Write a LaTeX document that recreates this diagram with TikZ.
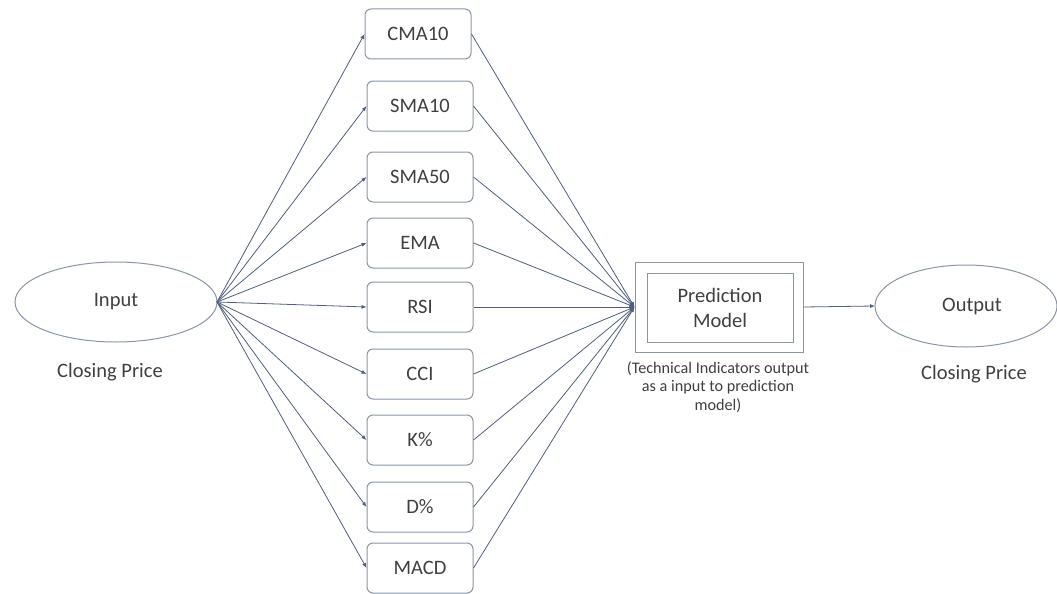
\documentclass[tikz,border=0pt]{standalone}
\usepackage{fontspec}
\setmainfont{Carlito}
\usetikzlibrary{arrows.meta}
\definecolor{linec}{HTML}{50607E}
\definecolor{boxc}{HTML}{8A96A8}
\definecolor{txtc}{HTML}{404040}
\begin{document}
\begin{tikzpicture}[x=1pt,y=-1pt,
  ind/.style={draw=boxc,line width=1pt,rounded corners=6pt,minimum width=106pt,minimum height=50pt,inner sep=0pt,text=txtc,font=\fontsize{20.5}{24}\selectfont},
  lbl/.style={text=txtc,font=\fontsize{20.5}{24}\selectfont,inner sep=0pt},
  captext/.style={text=txtc,font=\fontsize{16.2}{18.5}\selectfont,align=center,inner sep=0pt},
  conn/.style={draw=linec,line width=0.8pt,-{Latex[length=5pt,width=4pt]}}]
\useasboundingbox (0,0) rectangle (1057,594);
\fill[white] (0,0) rectangle (1057,594);
% input / output ellipses
\draw[boxc,line width=1pt] (116,302) ellipse [x radius=101pt,y radius=40pt];
\coordinate (inE) at (217,302);
\node[lbl] (inT) at (116,302) {Input};
\node[lbl] (inC) at (110,372) {Closing Price};
\draw[boxc,line width=1pt] (966,306) ellipse [x radius=91pt,y radius=41pt];
\coordinate (outW) at (875,306);
\node[lbl] (outT) at (972,306) {Output};
\node[lbl] (outC) at (974,374) {Closing Price};
% indicator boxes
\node[ind] (b1) at (418,34) {CMA10};
\node[ind] (b2) at (420,106) {SMA10};
\node[ind] (b3) at (420,177) {SMA50};
\node[ind] (b4) at (420,243) {EMA};
\node[ind] (b5) at (420,307) {RSI};
\node[ind] (b6) at (420,374) {CCI};
\node[ind] (b7) at (420,440) {K\%};
\node[ind] (b8) at (420,507) {D\%};
\node[ind] (b9) at (420,568) {MACD};
% prediction model
\node[draw=boxc,line width=1pt,minimum width=168pt,minimum height=90pt,inner sep=0pt] (pred) at (719,307) {};
\node[draw=boxc,line width=1pt,minimum width=146pt,minimum height=69pt,inner sep=0pt,text=txtc,align=center,font=\fontsize{20.5}{25}\selectfont] (predIn) at (720,307.5) {Prediction\\Model};
\node[captext] (capT) at (718,387) {(Technical Indicators output\\as a input to prediction\\model)};
% connectors
\foreach \b in {b1,b2,b3,b4,b5,b6,b7,b8,b9}{
  \draw[conn] (inE) -- (\b.west);
  \draw[conn] (\b.east) -- (pred.west);
}
\draw[conn] (pred.east) -- (outW);
\end{tikzpicture}
\end{document}
